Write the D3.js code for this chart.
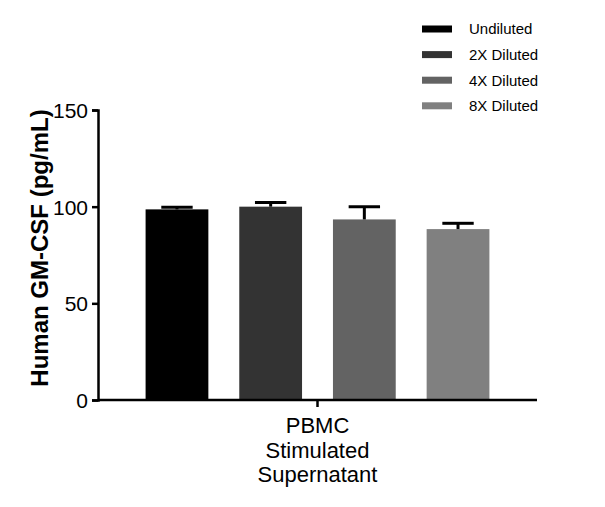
<!DOCTYPE html>
<html>
<head>
<meta charset="utf-8">
<script src="https://cdn.jsdelivr.net/npm/d3@7"></script>
<style>
  body { margin: 0; background: #fff; }
  text { font-family: "Liberation Sans", Arial, sans-serif; }
</style>
</head>
<body>
<div id="chart"></div>
<script>
// data
const groups = ['Undiluted', '2X Diluted', '4X Diluted', '8X Diluted'];
const means = [98.6, 100.0, 93.4, 88.4];
const errors = [1.1, 2.1, 6.6, 3.0];
const colors = ['#000000', '#333333', '#636363', '#808080'];
const yTicks = [0, 50, 100, 150];
const categoryLines = ['PBMC', 'Stimulated', 'Supernatant'];

const width = 605;
const height = 507;

const svg = d3
  .select('#chart')
  .append('svg')
  .attr('width', width)
  .attr('height', height);

// scales
const x = d3
  .scaleBand()
  .domain(groups)
  .range([98, 537])
  .paddingInner(0.33)
  .paddingOuter(0.508);

const y = d3.scaleLinear().domain([0, 150]).range([400, 110]);

// bars
svg
  .selectAll('.bar')
  .data(groups)
  .enter()
  .append('rect')
  .attr('class', 'bar')
  .attr('x', (d) => x(d))
  .attr('y', (d, i) => y(means[i]))
  .attr('width', x.bandwidth())
  .attr('height', (d, i) => y(0) - y(means[i]))
  .style('fill', (d, i) => colors[i]);

// error bars (upper only)
const err = svg.append('g').attr('class', 'errors');
groups.forEach((g, i) => {
  const cx = x(g) + x.bandwidth() / 2;
  const top = y(means[i] + errors[i]);
  err
    .append('line')
    .attr('x1', cx)
    .attr('x2', cx)
    .attr('y1', y(means[i]))
    .attr('y2', top)
    .attr('stroke', '#000')
    .attr('stroke-width', 3);
  err
    .append('line')
    .attr('x1', cx - x.bandwidth() / 4)
    .attr('x2', cx + x.bandwidth() / 4)
    .attr('y1', top)
    .attr('y2', top)
    .attr('stroke', '#000')
    .attr('stroke-width', 3);
});

// y axis
const yAxis = svg
  .append('g')
  .attr('transform', 'translate(98,0)')
  .call(d3.axisLeft(y).tickValues(yTicks).tickSize(6).tickPadding(4));
yAxis.select('.domain').attr('stroke-width', 2.5);
yAxis.selectAll('.tick line').attr('stroke-width', 2.5);
yAxis
  .selectAll('.tick text')
  .style('font-size', '21px')
  .attr('fill', '#000')
  .attr('dy', '0.36em');

// x axis
const xAxisG = svg.append('g');
xAxisG
  .append('line')
  .attr('x1', 98)
  .attr('x2', 537)
  .attr('y1', y(0))
  .attr('y2', y(0))
  .attr('stroke', '#000')
  .attr('stroke-width', 2.5);
const xMid = (x(groups[0]) + x(groups[groups.length - 1]) + x.bandwidth()) / 2;
xAxisG
  .append('line')
  .attr('x1', xMid)
  .attr('x2', xMid)
  .attr('y1', y(0))
  .attr('y2', y(0) + 7)
  .attr('stroke', '#000')
  .attr('stroke-width', 2.5);
xAxisG
  .selectAll('.catlabel')
  .data(categoryLines)
  .enter()
  .append('text')
  .attr('class', 'catlabel')
  .attr('x', xMid)
  .attr('y', (d, i) => 433 + i * 24.5)
  .attr('text-anchor', 'middle')
  .style('font-size', '22px')
  .text((d) => d);

// y label
svg
  .append('text')
  .attr('transform', 'rotate(-90)')
  .attr('x', -248)
  .attr('y', 48)
  .attr('text-anchor', 'middle')
  .style('font-size', '24px')
  .style('font-weight', 'bold')
  .text('Human GM-CSF (pg/mL)');

// legend
const legend = svg
  .append('g')
  .selectAll('.legend')
  .data(groups)
  .enter()
  .append('g')
  .attr('class', 'legend')
  .attr('transform', (d, i) => `translate(422,${29 + i * 25.6})`);
legend
  .append('rect')
  .attr('x', 0)
  .attr('y', -3.5)
  .attr('width', 30)
  .attr('height', 7)
  .style('fill', (d, i) => colors[i]);
legend
  .append('text')
  .attr('x', 47)
  .attr('dy', '0.36em')
  .style('font-size', '15px')
  .text((d) => d);
</script>
</body>
</html>
